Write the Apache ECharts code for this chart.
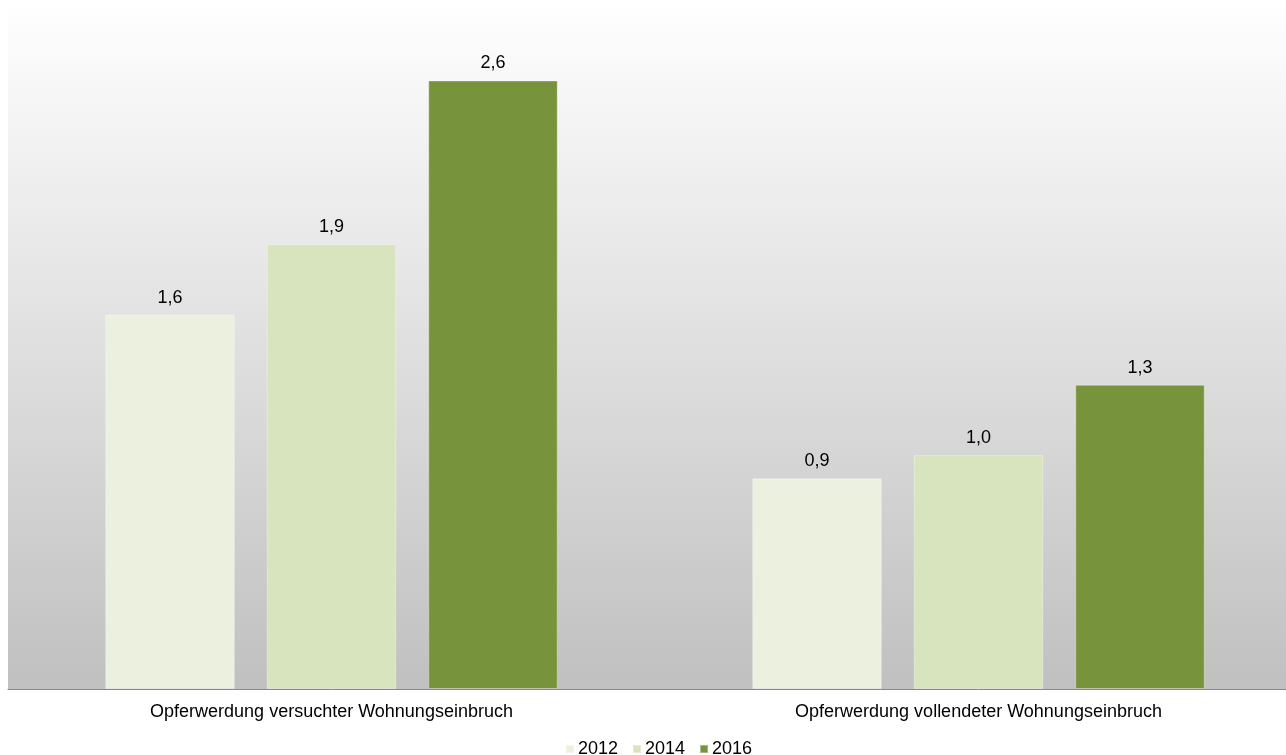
<!DOCTYPE html>
<html>
<head>
<meta charset="utf-8">
<script src="https://cdn.jsdelivr.net/npm/echarts@6/dist/echarts.min.js"></script>
<style>
html,body{margin:0;padding:0;background:#fff;overflow:hidden;}
#chart{width:1302px;height:755px;}
</style>
</head>
<body>
<div id="chart"></div>
<script>
var categories = ['Opferwerdung versuchter Wohnungseinbruch', 'Opferwerdung vollendeter Wohnungseinbruch'];
var seriesNames = ['2012', '2014', '2016'];
var values2012 = [1.6, 0.9];
var values2014 = [1.9, 1.0];
var values2016 = [2.6, 1.3];
var colors = ['#EBF1DE', '#D7E4BD', '#77933C'];

var font = 'Liberation Sans, Arial, sans-serif';
var chart = echarts.init(document.getElementById('chart'), null, {renderer: 'canvas'});
function mk(name, data, color) {
  return {
    name: name, type: 'bar', data: data,
    barWidth: 129.5, barGap: '24.7%',
    itemStyle: {color: color, borderColor: 'rgba(255,255,255,0.35)', borderWidth: 1},
    label: {
      show: true, position: 'top', distance: 8,
      color: '#000', fontSize: 18, fontFamily: font,
      formatter: function (p) { return p.value.toFixed(1).replace('.', ','); }
    }
  };
}
chart.setOption({
  animation: false,
  color: colors,
  grid: {
    left: 8, right: 0, top: 0, height: 689,
    show: true, borderWidth: 0,
    backgroundColor: new echarts.graphic.LinearGradient(0, 0, 0, 1, [
      {offset: 0, color: '#ffffff'},
      {offset: 1, color: '#c0c0c0'}
    ])
  },
  legend: {
    data: seriesNames, top: 735, left: 560,
    itemWidth: 8, itemHeight: 8, itemGap: 14, icon: 'rect',
    textStyle: {fontSize: 18, fontFamily: font, color: '#000', padding: [0, 0, 0, -1]}
  },
  xAxis: {
    type: 'category', data: categories,
    axisLine: {show: true, lineStyle: {color: '#888888', width: 1}},
    axisTick: {show: false},
    axisLabel: {color: '#000', fontSize: 18, fontFamily: font, margin: 14}
  },
  yAxis: {
    type: 'value', min: 0, max: 2.944,
    show: false, splitLine: {show: false}
  },
  series: [mk(seriesNames[0], values2012, colors[0]), mk(seriesNames[1], values2014, colors[1]), mk(seriesNames[2], values2016, colors[2])]
});
</script>
</body>
</html>
